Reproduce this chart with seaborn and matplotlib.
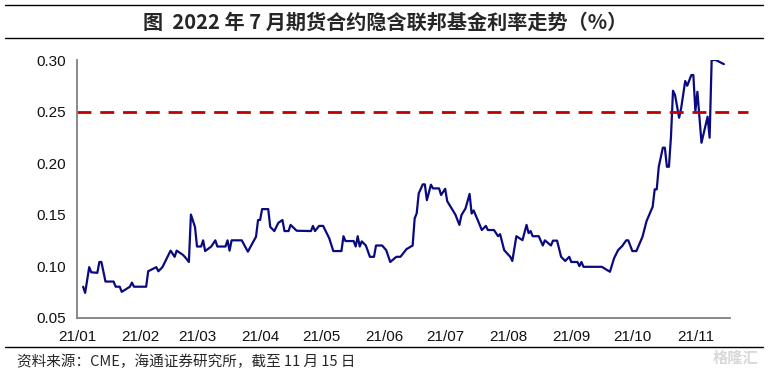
import pandas as pd
import numpy as np
import matplotlib
matplotlib.use('Agg')
import matplotlib.pyplot as plt
import matplotlib.dates as mdates
from matplotlib.lines import Line2D
import seaborn as sns

# 2022年7月期货合约隐含联邦基金利率（%），读图估计
dates = ['01-04', '01-05', '01-07', '01-08', '01-11', '01-12', '01-13', '01-15', '01-19', '01-20',
         '01-22', '01-23', '01-27', '01-28', '01-29', '02-04', '02-05', '02-09', '02-10', '02-12',
         '02-16', '02-18', '02-19', '02-22', '02-23', '02-25', '02-26', '02-28', '03-01', '03-03',
         '03-04', '03-05', '03-08', '03-10', '03-11', '03-15', '03-16', '03-17', '03-18', '03-23',
         '03-26', '03-30', '03-31', '04-01', '04-02', '04-05', '04-06', '04-08', '04-10', '04-12',
         '04-13', '04-15', '04-16', '04-19', '04-26', '04-27', '04-28', '04-30', '05-02', '05-05',
         '05-07', '05-11', '05-12', '05-13', '05-17', '05-18', '05-19', '05-20', '05-21', '05-23',
         '05-25', '05-27', '05-28', '05-31', '06-02', '06-04', '06-07', '06-09', '06-12', '06-15',
         '06-16', '06-17', '06-18', '06-20', '06-21', '06-22', '06-24', '06-25', '06-28', '06-29',
         '07-01', '07-02', '07-06', '07-08', '07-09', '07-11', '07-13', '07-14', '07-15', '07-17',
         '07-19', '07-21', '07-22', '07-25', '07-27', '07-28', '07-30', '08-02', '08-03', '08-05',
         '08-08', '08-10', '08-11', '08-12', '08-13', '08-16', '08-18', '08-19', '08-22', '08-23',
         '08-25', '08-27', '08-29', '08-31', '09-01', '09-04', '09-05', '09-06', '09-07', '09-16',
         '09-20', '09-22', '09-24', '09-26', '09-28', '09-29', '10-01', '10-03', '10-06', '10-08',
         '10-11', '10-12', '10-13', '10-14', '10-16', '10-17', '10-18', '10-19', '10-20', '10-21',
         '10-22', '10-24', '10-25', '10-27', '10-28', '10-30', '10-31', '11-01', '11-02', '11-04',
         '11-07', '11-08', '11-09', '11-11', '11-15']
rate = [0.080, 0.074, 0.099, 0.094, 0.0935, 0.104, 0.104, 0.085, 0.085, 0.080,
        0.080, 0.075, 0.080, 0.084, 0.080, 0.080, 0.095, 0.099, 0.095, 0.099,
        0.115, 0.109, 0.115, 0.111, 0.109, 0.104, 0.150, 0.138, 0.119, 0.119,
        0.125, 0.1146, 0.119, 0.125, 0.119, 0.119, 0.125, 0.115, 0.125, 0.125,
        0.114, 0.1285, 0.1447, 0.1447, 0.1553, 0.1553, 0.138, 0.134, 0.142, 0.1447,
        0.134, 0.134, 0.140, 0.1343, 0.134, 0.139, 0.134, 0.139, 0.139, 0.127,
        0.1146, 0.1146, 0.129, 0.1243, 0.1243, 0.119, 0.129, 0.119, 0.124, 0.120,
        0.109, 0.109, 0.120, 0.120, 0.1155, 0.104, 0.109, 0.109, 0.1165, 0.120,
        0.1463, 0.1512, 0.1706, 0.1793, 0.1793, 0.164, 0.179, 0.1754, 0.1754, 0.169,
        0.175, 0.163, 0.150, 0.140, 0.1495, 0.156, 0.170, 0.151, 0.154, 0.1447,
        0.135, 0.139, 0.135, 0.135, 0.129, 0.131, 0.1155, 0.109, 0.105, 0.129,
        0.1252, 0.140, 0.132, 0.134, 0.129, 0.129, 0.120, 0.125, 0.120, 0.1247,
        0.1247, 0.109, 0.105, 0.109, 0.104, 0.104, 0.100, 0.104, 0.0993, 0.0993,
        0.0945, 0.1075, 0.1155, 0.1194, 0.125, 0.125, 0.1146, 0.1146, 0.1285, 0.1437,
        0.1576, 0.1745, 0.1745, 0.1964, 0.2149, 0.2149, 0.1964, 0.1964, 0.2256, 0.2702,
        0.266, 0.244, 0.2531, 0.2796, 0.275, 0.2854, 0.2854, 0.2505, 0.2692, 0.2197,
        0.245, 0.2246, 0.300, 0.300, 0.296]
ref_level = 0.25
yticks = [0.05, 0.10, 0.15, 0.20, 0.25, 0.30]
month_ticks = ['2021-01-01', '2021-02-01', '2021-03-01', '2021-04-01', '2021-05-01', '2021-06-01',
               '2021-07-01', '2021-08-01', '2021-09-01', '2021-10-01', '2021-11-01']

title = '图  2022 年 7 月期货合约隐含联邦基金利率走势（%）'
source = '资料来源：CME，海通证券研究所，截至 11 月 15 日'

df = pd.DataFrame({'date': pd.to_datetime(['2021-' + d for d in dates]), 'rate': rate})

sns.set_style('white')
plt.rcParams['font.family'] = ['Liberation Sans', 'Noto Sans CJK SC', 'DejaVu Sans']

fig = plt.figure(figsize=(7.7, 3.75), dpi=100)
ax = fig.add_axes([0.1, 0.153, 0.848, 0.687])

sns.lineplot(data=df, x='date', y='rate', ax=ax, color='#0a0a80', linewidth=1.6)
# 0.25 参考虚线，略伸出坐标轴右端
ax.axhline(ref_level, xmin=0, xmax=1.028, color='#c00000', linewidth=2.0,
           dashes=(5, 3.2), clip_on=False)

ax.set_xlim(pd.Timestamp('2021-01-01'), pd.Timestamp('2021-11-18'))
ax.set_ylim(0.05, 0.30)
ax.set_yticks(yticks)
ax.yaxis.set_major_formatter(matplotlib.ticker.FormatStrFormatter('%.2f'))
ax.set_xticks(pd.to_datetime(month_ticks))
ax.xaxis.set_major_formatter(mdates.DateFormatter('%y/%m'))
ax.set_xlabel('')
ax.set_ylabel('')

for s in ['top', 'right']:
    ax.spines[s].set_visible(False)
for s in ['left', 'bottom']:
    ax.spines[s].set_color('#808080')
    ax.spines[s].set_linewidth(1.3)
ax.tick_params(axis='both', which='major', direction='out', length=4, width=1,
               color='#808080', labelsize=11, labelcolor='#111111', pad=4)
ax.tick_params(axis='x', pad=5)

# 标题与上下分隔线
fig.text(0.5, 0.942, title, ha='center', va='center', fontsize=14.5, fontweight='bold',
         family=['Noto Sans CJK SC', 'DejaVu Sans'])
for yy in [0.988, 0.899, 0.075]:
    fig.add_artist(Line2D([0.007, 0.991], [yy, yy], color='black', linewidth=1.0,
                          transform=fig.transFigure))
fig.text(0.022, 0.035, source, ha='left', va='center', fontsize=10.5,
         family=['Noto Sans CJK SC', 'DejaVu Sans'])
fig.text(0.955, 0.047, '格隆汇', ha='center', va='center', fontsize=11, color='#d8d8d8',
         fontweight='bold', family=['Noto Sans CJK SC', 'DejaVu Sans'])

fig.savefig('out.png', dpi=100)
